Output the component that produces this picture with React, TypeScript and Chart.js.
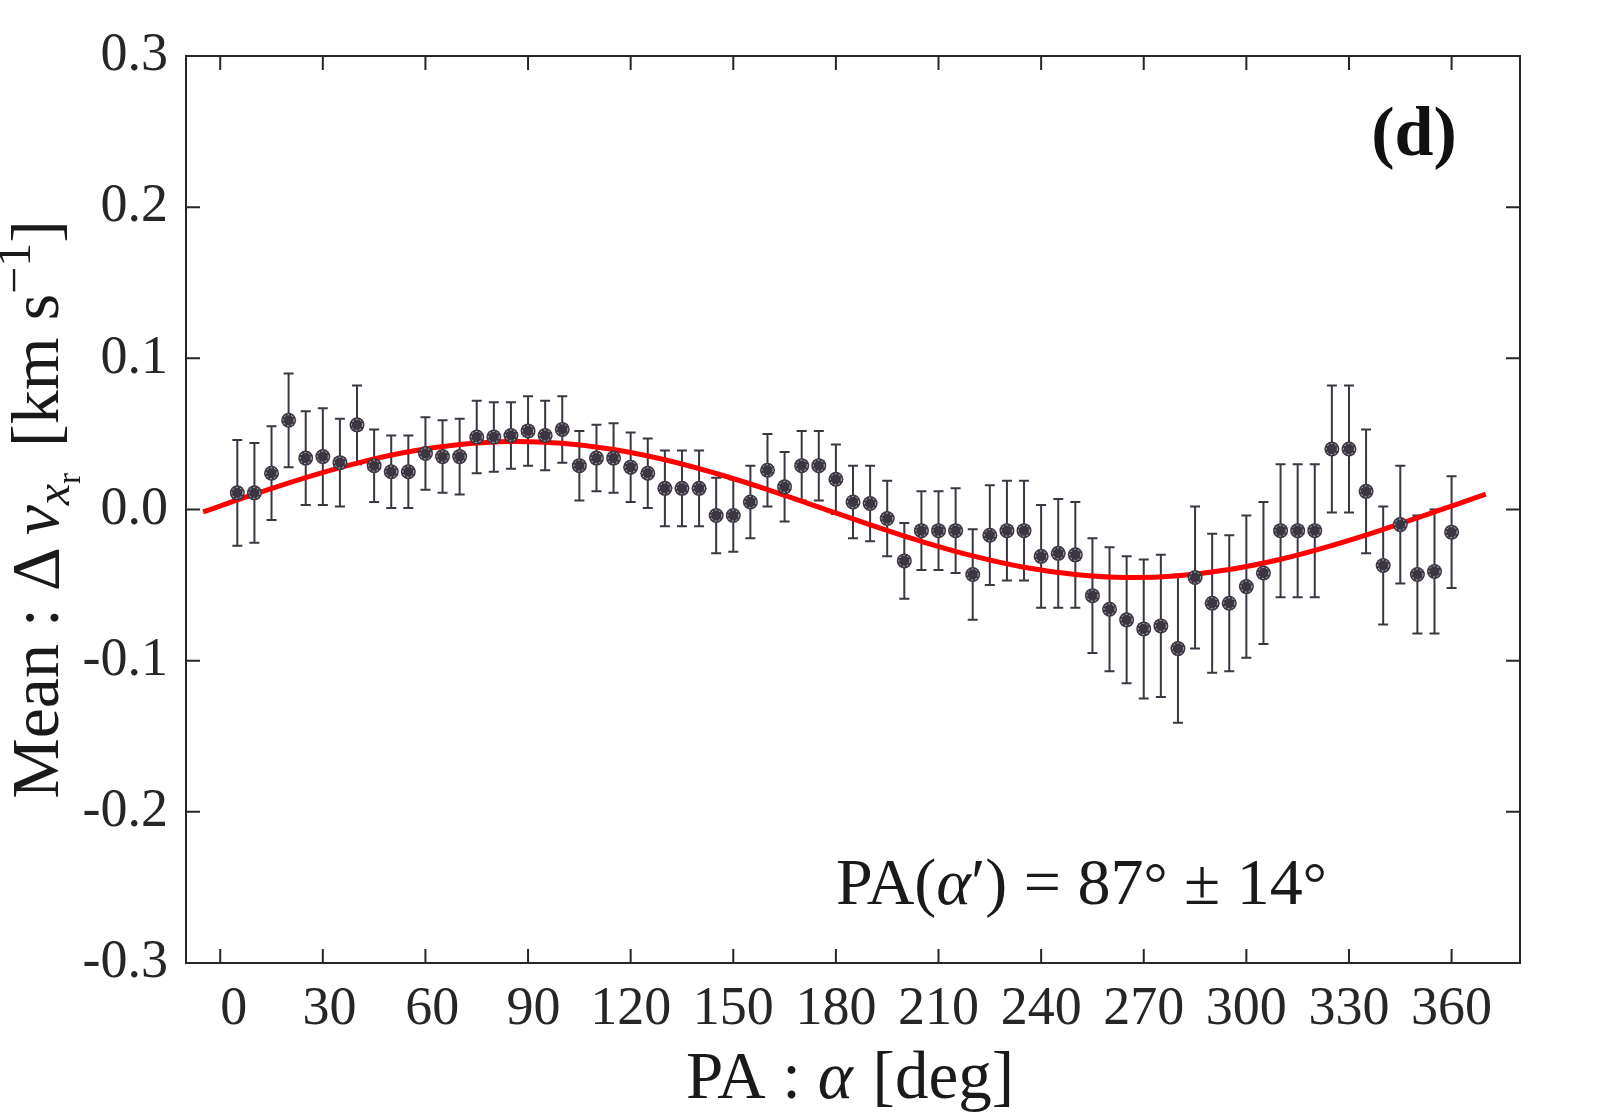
import { useEffect, useRef } from "react"
import { Chart, registerables } from "chart.js"

Chart.register(...registerables)

// position angle of each bin [deg]
const angles = [
    5, 10, 15, 20, 25, 30, 35, 40, 45, 50, 55, 60, 65, 70, 75, 80, 85, 90,
    95, 100, 105, 110, 115, 120, 125, 130, 135, 140, 145, 150, 155, 160, 165, 170, 175, 180,
    185, 190, 195, 200, 205, 210, 215, 220, 225, 230, 235, 240, 245, 250, 255, 260, 265, 270,
    275, 280, 285, 290, 295, 300, 305, 310, 315, 320, 325, 330, 335, 340, 345, 350, 355, 360
]

// mean velocity difference [km/s]
const meanShift = [
    0.011, 0.011, 0.024, 0.059, 0.034, 0.035, 0.031, 0.056, 0.029, 0.025, 0.025, 0.037,
    0.035, 0.035, 0.048, 0.048, 0.049, 0.052, 0.049, 0.053, 0.029, 0.034, 0.034, 0.028,
    0.024, 0.014, 0.014, 0.014, -0.004, -0.004, 0.005, 0.026, 0.015, 0.029, 0.029, 0.02,
    0.005, 0.004, -0.006, -0.034, -0.014, -0.014, -0.014, -0.043, -0.017, -0.014, -0.014, -0.031,
    -0.029, -0.03, -0.057, -0.066, -0.073, -0.079, -0.077, -0.092, -0.045, -0.062, -0.062, -0.051,
    -0.042, -0.014, -0.014, -0.014, 0.04, 0.04, 0.012, -0.037, -0.01, -0.043, -0.041, -0.015
]

// half length of the error bars [km/s]
const errHalf = [
    0.035, 0.033, 0.031, 0.031, 0.031, 0.032, 0.029, 0.026, 0.024, 0.024, 0.024, 0.024,
    0.024, 0.025, 0.024, 0.023, 0.022, 0.023, 0.023, 0.022, 0.023, 0.022, 0.023, 0.023,
    0.023, 0.025, 0.025, 0.025, 0.025, 0.024, 0.024, 0.024, 0.023, 0.023, 0.023, 0.023,
    0.024, 0.025, 0.025, 0.025, 0.026, 0.026, 0.028, 0.03, 0.033, 0.033, 0.033, 0.034,
    0.036, 0.035, 0.038, 0.041, 0.042, 0.046, 0.047, 0.049, 0.047, 0.046, 0.045, 0.047,
    0.047, 0.044, 0.044, 0.044, 0.042, 0.042, 0.041, 0.039, 0.039, 0.039, 0.041, 0.037
]

// red fit curve
const fitAngles = [-5, 10, 25, 40, 55, 70, 85, 100, 115, 130, 145, 160, 175, 190, 205, 220, 235, 250, 265, 280, 295, 310, 325, 340, 355, 370]
const fitValues = [
    -0.0016, 0.0101, 0.0211, 0.0307, 0.0382, 0.043, 0.045, 0.0438, 0.0397, 0.0329, 0.0238, 0.0132, 0.0016,
    -0.0101, -0.0211, -0.0307, -0.0382, -0.043, -0.045, -0.0438, -0.0397, -0.0329, -0.0238, -0.0132, -0.0016, 0.0101
]

const xTicks = [0, 30, 60, 90, 120, 150, 180, 210, 240, 270, 300, 330, 360]
const yTicks = [-0.3, -0.2, -0.1, 0, 0.1, 0.2, 0.3]

const SERIF = '"Liberation Serif", "Times New Roman", serif'
const INK = "#262626"
const MARK = "#3b3641"

type Seg = { t: string; size: number; italic?: boolean; bold?: boolean; dy?: number; gap?: number }

const segFont = (s: Seg) => `${s.italic ? "italic " : ""}${s.bold ? "bold " : ""}${s.size}px ${SERIF}`

function richWidth(ctx: CanvasRenderingContext2D, segs: Seg[]) {
    let w = 0
    segs.forEach((s) => {
        ctx.font = segFont(s)
        w += ctx.measureText(s.t).width + (s.gap || 0)
    })
    return w
}

function drawRich(ctx: CanvasRenderingContext2D, segs: Seg[], x: number, y: number) {
    let cx = x
    segs.forEach((s) => {
        ctx.font = segFont(s)
        ctx.fillText(s.t, cx, y + (s.dy || 0))
        cx += ctx.measureText(s.t).width + (s.gap || 0)
    })
}

const yTitle: Seg[] = [
    { t: "Mean : ", size: 68 },
    { t: "Δ", size: 68, gap: 12 },
    { t: "v", size: 68, italic: true },
    { t: "x", size: 48, italic: true, dy: 11 },
    { t: "r", size: 33, dy: 22, gap: 26 },
    { t: "[km s", size: 68 },
    { t: "−1", size: 48, dy: -28 },
    { t: "]", size: 68 }
]

const xTitle: Seg[] = [
    { t: "PA : ", size: 67 },
    { t: "α", size: 67, italic: true, gap: 3 },
    { t: " [deg]", size: 67 }
]

const paNote: Seg[] = [
    { t: "PA(", size: 66 },
    { t: "α", size: 66, italic: true },
    { t: "′", size: 66 },
    { t: ") = 87", size: 66 },
    { t: "°", size: 60 },
    { t: " ± 14", size: 66 },
    { t: "°", size: 60 }
]

// MATLAB nudges the short labels to the right a little
const xLabel = (v: number) => (v === 0 ? "\u2002" : v < 90 ? " " : v === 90 ? "\u2009" : "") + String(v)

const frame = {
    id: "frame",
    beforeDatasetsDraw(chart: any) {
        const { ctx, scales } = chart
        const x = scales.x
        const y = scales.y
        ctx.save()
        ctx.strokeStyle = MARK
        ctx.lineWidth = 2
        angles.forEach((a, i) => {
            const px = x.getPixelForValue(a)
            const top = y.getPixelForValue(meanShift[i] + errHalf[i])
            const bot = y.getPixelForValue(meanShift[i] - errHalf[i])
            ctx.beginPath()
            ctx.moveTo(px, top)
            ctx.lineTo(px, bot)
            ctx.moveTo(px - 5, top)
            ctx.lineTo(px + 5, top)
            ctx.moveTo(px - 5, bot)
            ctx.lineTo(px + 5, bot)
            ctx.stroke()
        })
        ctx.restore()
    },
    afterDatasetsDraw(chart: any) {
        const { ctx } = chart
        const meta = chart.getDatasetMeta(1)
        ctx.save()
        ctx.strokeStyle = "#c9c4cc"
        ctx.lineWidth = 1
        ctx.setLineDash([2, 2])
        meta.data.forEach((pt: any) => {
            ctx.beginPath()
            ctx.arc(pt.x, pt.y, 5.5, 0, Math.PI * 2)
            ctx.stroke()
        })
        ctx.restore()
    },
    afterDraw(chart: any) {
        const { ctx, chartArea, scales } = chart
        const { left, right, top, bottom } = chartArea
        const tl = 14
        ctx.save()
        ctx.strokeStyle = INK
        ctx.lineWidth = 2
        ctx.strokeRect(left, top, right - left, bottom - top)
        ctx.beginPath()
        xTicks.forEach((v) => {
            const px = scales.x.getPixelForValue(v)
            ctx.moveTo(px, bottom)
            ctx.lineTo(px, bottom - tl)
            ctx.moveTo(px, top)
            ctx.lineTo(px, top + tl)
        })
        yTicks.forEach((v) => {
            const py = scales.y.getPixelForValue(v)
            ctx.moveTo(left, py)
            ctx.lineTo(left + tl, py)
            ctx.moveTo(right, py)
            ctx.lineTo(right - tl, py)
        })
        ctx.stroke()

        ctx.fillStyle = "#1a1a1a"
        ctx.textBaseline = "alphabetic"
        ctx.textAlign = "left"

        // x axis title
        const xw = richWidth(ctx, xTitle)
        drawRich(ctx, xTitle, 850 - xw / 2, 1098)

        // y axis title
        const yw = richWidth(ctx, yTitle)
        ctx.save()
        ctx.translate(58, (top + bottom) / 2)
        ctx.rotate(-Math.PI / 2)
        drawRich(ctx, yTitle, -yw / 2, 0)
        ctx.restore()

        // fitted position angle
        drawRich(ctx, paNote, 836, 904)

        // panel label
        ctx.fillStyle = "#111"
        ctx.font = `bold 70px ${SERIF}`
        ctx.textAlign = "center"
        ctx.fillText("(d)", 1414, 155)
        ctx.restore()
    }
}

export default function App() {
    const canvasRef = useRef<HTMLCanvasElement>(null)

    useEffect(() => {
        if (!canvasRef.current) return
        const chart = new Chart(canvasRef.current, {
            type: "scatter",
            data: {
                datasets: [
                    {
                        label: "fit",
                        data: fitAngles.map((a, i) => ({ x: a, y: fitValues[i] })),
                        showLine: true,
                        borderColor: "#ff0000",
                        borderWidth: 5,
                        pointRadius: 0,
                        tension: 0.4,
                        order: 2
                    },
                    {
                        label: "mean",
                        data: angles.map((a, i) => ({ x: a, y: meanShift[i] })),
                        pointRadius: 7.5,
                        backgroundColor: MARK,
                        borderColor: MARK,
                        borderWidth: 0,
                        order: 1
                    }
                ]
            },
            options: {
                animation: false,
                responsive: false,
                devicePixelRatio: 1,
                layout: { padding: { top: 56, right: 80, left: 0, bottom: 0 } },
                plugins: { legend: { display: false }, tooltip: { enabled: false } },
                scales: {
                    x: {
                        type: "linear",
                        min: -10,
                        max: 380,
                        grid: { display: false, drawTicks: false },
                        border: { display: false },
                        afterBuildTicks: (s: any) => {
                            s.ticks = xTicks.map((v) => ({ value: v }))
                        },
                        afterFit: (s: any) => {
                            s.height = 157
                        },
                        ticks: {
                            font: { family: SERIF, size: 54 },
                            color: INK,
                            padding: 14,
                            maxRotation: 0,
                            autoSkip: false,
                            callback: (v: any) => xLabel(Number(v))
                        }
                    },
                    y: {
                        type: "linear",
                        min: -0.3,
                        max: 0.3,
                        grid: { display: false, drawTicks: false },
                        border: { display: false },
                        afterBuildTicks: (s: any) => {
                            s.ticks = yTicks.map((v) => ({ value: v }))
                        },
                        afterFit: (s: any) => {
                            s.width = 186
                        },
                        ticks: {
                            font: { family: SERIF, size: 54 },
                            color: INK,
                            padding: 18,
                            autoSkip: false,
                            callback: (v: any) => Number(v).toFixed(1)
                        }
                    }
                }
            },
            plugins: [frame]
        })
        return () => chart.destroy()
    }, [])

    return (
        <div style={{ position: "fixed", left: 0, top: 0, width: 1600, height: 1120, background: "#fff" }}>
            <canvas ref={canvasRef} width={1600} height={1120} style={{ display: "block" }} />
        </div>
    )
}
